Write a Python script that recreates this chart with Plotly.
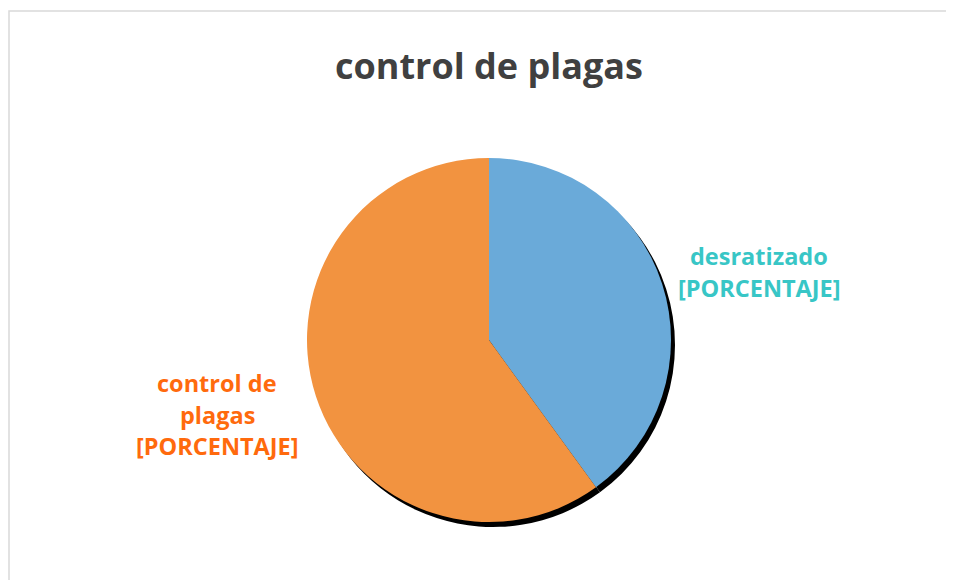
import plotly.graph_objects as go

W, H = 954, 580
OFF = 8  # page body margin in the browser

labels = ["desratizado", "control de plagas"]
values = [40, 60]
slice_colors = ["#6AAAD9", "#F29340"]
label_colors = ["#38C6C6", "#FF6A0D"]
label_lines = [["desratizado", "[PORCENTAJE]"], ["control de", "plagas", "[PORCENTAJE]"]]
title_text = "control de plagas"

# pie geometry in screen pixels
cx, cy, r = 489, 340, 182
sx, sy = 4, 5  # shadow offset


def px(x):
    return (x - OFF) / W


def py(y):
    return 1 - (y - OFF) / H


def dom(cx, cy, r):
    return dict(x=[px(cx - r), px(cx + r)], y=[py(cy + r), py(cy - r)])


fig = go.Figure()
fig.add_trace(go.Pie(
    labels=labels, values=values, sort=False, direction="clockwise", rotation=0,
    marker=dict(colors=["#000000", "#000000"], line=dict(width=0)),
    textinfo="none", hoverinfo="skip", showlegend=False,
    domain=dom(cx + sx, cy + sy, r),
))
fig.add_trace(go.Pie(
    labels=labels, values=values, sort=False, direction="clockwise", rotation=0,
    marker=dict(colors=slice_colors, line=dict(width=0)),
    textinfo="none", showlegend=False,
    domain=dom(cx, cy, r),
))

label_anchor = [(759, 256), (217, 383)]
line_step = 31.5
for lines, col, (lx, ly) in zip(label_lines, label_colors, label_anchor):
    for i, ln in enumerate(lines):
        fig.add_annotation(
            x=px(lx), y=py(ly + i * line_step), xref="paper", yref="paper",
            text=ln, showarrow=False, xanchor="center", yanchor="middle",
            font=dict(family="Open Sans", size=23.5, color=col, weight="bold"),
        )

fig.add_annotation(
    x=px(489), y=py(66), xref="paper", yref="paper",
    text=title_text, showarrow=False, xanchor="center", yanchor="middle",
    font=dict(family="Open Sans", size=36, color="#404040", weight="bold"),
)

fig.add_shape(
    type="rect", xref="paper", yref="paper",
    x0=px(9), x1=1.05, y0=-0.05, y1=py(11),
    line=dict(color="#D9D9D9", width=1.5), fillcolor="rgba(0,0,0,0)", layer="below",
)

fig.update_layout(
    width=W, height=H,
    margin=dict(l=0, r=0, t=0, b=0),
    paper_bgcolor="white", plot_bgcolor="white",
)

fig.write_html("out.html")
